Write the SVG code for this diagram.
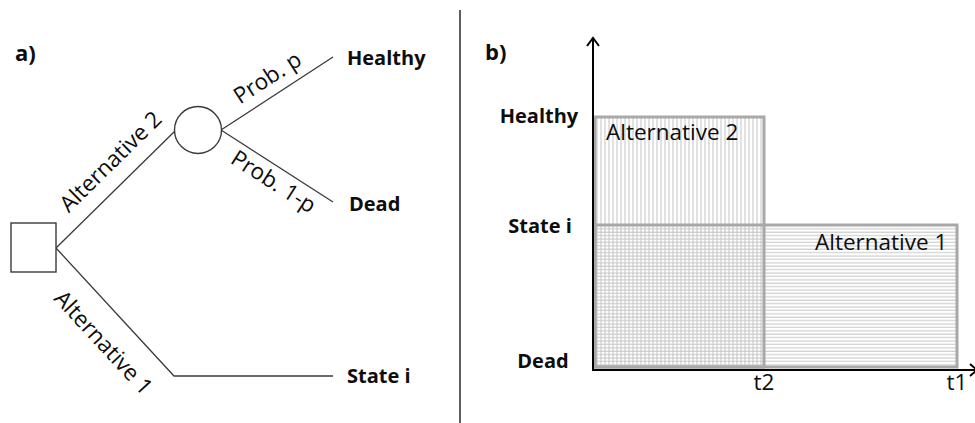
<svg xmlns="http://www.w3.org/2000/svg" width="975" height="423" viewBox="0 0 975 423">
  <style>
    .lbl { font-family: "Open Sans", "Liberation Sans", sans-serif; font-size: 22.5px; fill: #0d0d0d; }
    .bold { font-family: "Open Sans", "Liberation Sans", sans-serif; font-size: 20px; font-weight: bold; fill: #0d0d0d; }
    .tag { font-family: "Open Sans", "Liberation Sans", sans-serif; font-size: 22px; font-weight: bold; fill: #0d0d0d; }
    .branch { stroke: #3a3a3a; stroke-width: 1.3; fill: none; }
    .box { stroke: #3a3a3a; stroke-width: 1.4; fill: #fff; }
    .axis { stroke: #000; stroke-width: 2; fill: none; }
    .bar { stroke: #a8a8a8; stroke-width: 3; }
  </style>
  <defs>
    <pattern id="vlines" width="4" height="10" patternUnits="userSpaceOnUse">
      <line x1="1" y1="0" x2="1" y2="10" stroke="#c4c4c4" stroke-width="1"/>
    </pattern>
    <pattern id="hlines" width="10" height="3.4" patternUnits="userSpaceOnUse">
      <line x1="0" y1="1" x2="10" y2="1" stroke="#c4c4c4" stroke-width="1"/>
    </pattern>
  </defs>

  <rect width="975" height="423" fill="#fff"/>

  <!-- panel a: decision tree -->
  <text class="tag" x="15" y="61">a)</text>

  <g id="connectors">
    <line class="branch" x1="56" y1="248" x2="176" y2="130"/>
    <polyline class="branch" points="56,248 174,376 333,376"/>
    <line class="branch" x1="221" y1="130" x2="333" y2="57"/>
    <line class="branch" x1="221" y1="130" x2="333" y2="202"/>
    <text class="lbl" text-anchor="middle" dominant-baseline="central" transform="translate(110,161) rotate(-44.5)">Alternative 2</text>
    <text class="lbl" text-anchor="middle" dominant-baseline="central" transform="translate(104,342) rotate(47.3)">Alternative 1</text>
    <text class="lbl" text-anchor="middle" dominant-baseline="central" transform="translate(267,77) rotate(-33)">Prob. p</text>
    <text class="lbl" text-anchor="middle" dominant-baseline="central" transform="translate(274,181) rotate(32.7)">Prob. 1-p</text>
  </g>

  <g id="decision">
    <rect class="box" x="11" y="223" width="45" height="49"/>
  </g>
  <g id="chance">
    <circle class="box" cx="198" cy="130" r="23.5"/>
  </g>
  <g id="healthy-a">
    <text class="bold" x="347" y="65">Healthy</text>
  </g>
  <g id="dead-a">
    <text class="bold" x="349" y="211">Dead</text>
  </g>
  <g id="state-a">
    <text class="bold" x="347" y="383">State i</text>
  </g>

  <!-- divider -->
  <line x1="460" y1="10" x2="460" y2="423" stroke="#2a2a2a" stroke-width="1.5"/>

  <!-- panel b: health profile over time -->
  <text class="tag" x="485" y="60">b)</text>

  <g id="alt1-bar">
    <rect x="595" y="225" width="362" height="142" fill="url(#hlines)"/>
  </g>
  <g id="alt2-bar">
    <rect x="595" y="117" width="169" height="250" fill="url(#vlines)"/>
  </g>
  <g id="bar-outlines">
    <rect class="bar" x="595" y="225" width="362" height="142" fill="none"/>
    <rect class="bar" x="595" y="117" width="169" height="250" fill="none"/>
  </g>
  <text class="lbl" x="606" y="140">Alternative 2</text>
  <text class="lbl" x="815" y="250">Alternative 1</text>

  <g id="axes">
    <line class="axis" x1="593" y1="38" x2="593" y2="370"/>
    <line class="axis" x1="592" y1="370" x2="977" y2="370"/>
    <polyline class="axis" points="587,46 593,38 599,46"/>
    <polyline class="axis" points="970,364 977,370 970,376"/>
  </g>

  <g id="y-labels">
    <text class="bold" x="539" y="123" text-anchor="middle">Healthy</text>
    <text class="bold" x="540" y="233" text-anchor="middle">State i</text>
    <text class="bold" x="543" y="368" text-anchor="middle">Dead</text>
  </g>
  <g id="x-labels">
    <text class="lbl" x="764" y="390" text-anchor="middle">t2</text>
    <text class="lbl" x="957" y="390" text-anchor="middle">t1</text>
  </g>
</svg>
